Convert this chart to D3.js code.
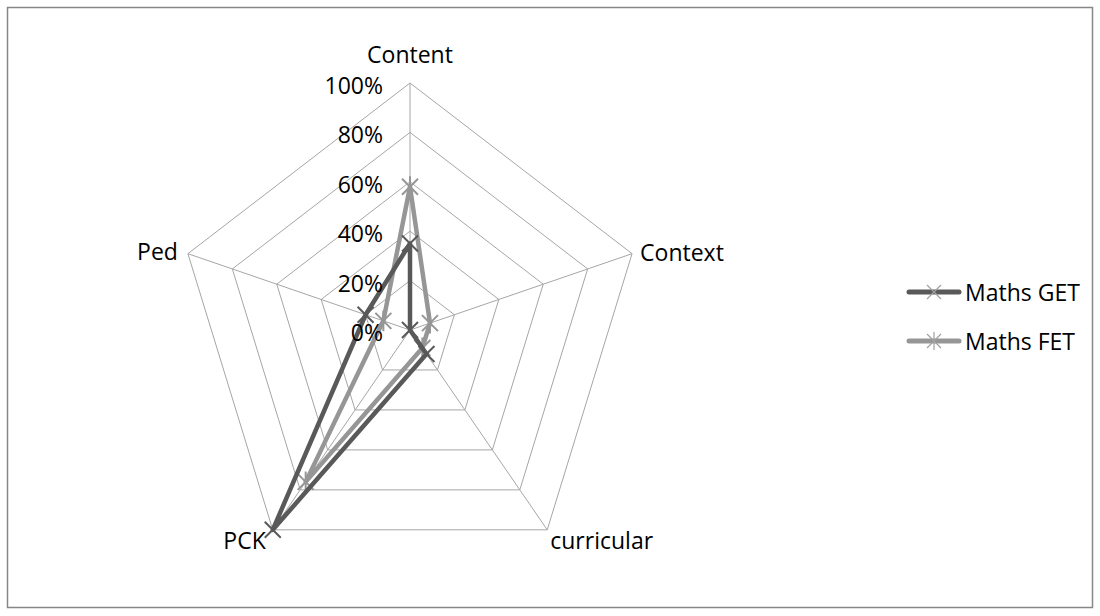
<!DOCTYPE html>
<html>
<head>
<meta charset="utf-8">
<script src="https://cdn.jsdelivr.net/npm/d3@7"></script>
<style>
  html, body { margin: 0; padding: 0; background: #fff; }
  svg { display: block; }
  text { font-family: "Open Sans", sans-serif; fill: #000; }
</style>
</head>
<body>
<script>
const axesLabels = ["Content", "Context", "curricular", "PCK", "Ped"];
const seriesNames = ["Maths GET", "Maths FET"];
const getValues = [0.35, 0.00, 0.12, 1.00, 0.20];
const fetValues = [0.58, 0.09, 0.09, 0.76, 0.12];
const tickValues = [0, 0.2, 0.4, 0.6, 0.8, 1.0];
const tickLabels = ["0%", "20%", "40%", "60%", "80%", "100%"];

const W = 1100, H = 616;
const cx = 410, cy = 330;
const svg = d3.select("body").append("svg").attr("width", W).attr("height", H);

svg.append("rect").attr("x", 7.5).attr("y", 7.5).attr("width", 1085).attr("height", 600)
  .attr("fill", "#fff").attr("stroke", "#878787").attr("stroke-width", 1.5);

const rx = d3.scaleLinear().domain([0, 1]).range([0, 233.5]);
const ry = d3.scaleLinear().domain([0, 1]).range([0, 247]);
const angle = d3.scalePoint().domain(axesLabels).range([0, 2 * Math.PI * 4 / 5]);
const pt = (a, v) => {
  const t = angle(a);
  return [cx + rx(v) * Math.sin(t), cy - ry(v) * Math.cos(t)];
};

const g = svg.append("g");
tickValues.slice(1).forEach(v => {
  g.append("path")
    .attr("d", d3.line()(axesLabels.map(a => pt(a, v))) + "Z")
    .attr("fill", "none").attr("stroke", "#a6a6a6").attr("stroke-width", 1);
});
axesLabels.forEach(a => {
  const p = pt(a, 1);
  g.append("line").attr("x1", cx).attr("y1", cy).attr("x2", p[0]).attr("y2", p[1])
    .attr("stroke", "#a6a6a6").attr("stroke-width", 1);
});

const series = [
  { name: seriesNames[1], values: fetValues, color: "#969696", marker: "star" },
  { name: seriesNames[0], values: getValues, color: "#595959", marker: "x" }
];
const markerPath = (type, s) => {
  let d = `M${-s},${-s}L${s},${s}M${-s},${s}L${s},${-s}`;
  if (type === "star") d += `M0,${-s * 1.3}L0,${s * 1.3}`;
  return d;
};
series.forEach(sr => {
  const pts = axesLabels.map((a, i) => pt(a, sr.values[i]));
  g.append("path").attr("d", d3.line()(pts) + "Z")
    .attr("fill", "none").attr("stroke", sr.color).attr("stroke-width", 4.5)
    .attr("stroke-linejoin", "round");
  pts.forEach(p => {
    g.append("path").attr("d", markerPath(sr.marker, 8))
      .attr("transform", `translate(${p[0]},${p[1]})`)
      .attr("fill", "none").attr("stroke", sr.color).attr("stroke-width", 2);
  });
});

tickValues.forEach((v, i) => {
  svg.append("text").attr("x", 383).attr("y", cy - ry(v) + 2)
    .attr("text-anchor", "end").attr("dominant-baseline", "central")
    .attr("font-size", 23).text(tickLabels[i]);
});

const labelPos = {
  "Content": { dx: 0, dy: -29, anchor: "middle" },
  "Context": { dx: 8, dy: -2, anchor: "start" },
  "curricular": { dx: 3, dy: 10, anchor: "start" },
  "PCK": { dx: -7, dy: 10, anchor: "end" },
  "Ped": { dx: -10, dy: -3, anchor: "end" }
};
axesLabels.forEach(a => {
  const p = pt(a, 1), o = labelPos[a];
  svg.append("text").attr("x", p[0] + o.dx).attr("y", p[1] + o.dy)
    .attr("text-anchor", o.anchor).attr("dominant-baseline", "central")
    .attr("font-size", 23).text(a);
});

const legendItems = [
  { name: seriesNames[0], color: "#595959", marker: "x", y: 292 },
  { name: seriesNames[1], color: "#969696", marker: "star", y: 341 }
];
legendItems.forEach(it => {
  svg.append("line").attr("x1", 909).attr("x2", 959).attr("y1", it.y).attr("y2", it.y)
    .attr("stroke", it.color).attr("stroke-width", 5).attr("stroke-linecap", "round");
  svg.append("path").attr("d", markerPath(it.marker, 7))
    .attr("transform", `translate(934,${it.y})`)
    .attr("fill", "none").attr("stroke", "#a0a0a0").attr("stroke-width", 1.2);
  svg.append("text").attr("x", 965).attr("y", it.y).attr("dominant-baseline", "central")
    .attr("font-size", 23).text(it.name);
});
</script>
</body>
</html>
